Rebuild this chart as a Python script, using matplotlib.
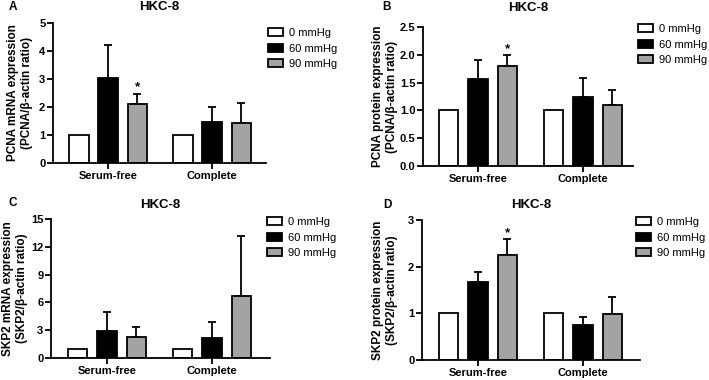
import matplotlib
matplotlib.use("Agg")
import matplotlib.pyplot as plt
from matplotlib.patches import Patch
import numpy as np

plt.rcParams['font.family'] = ['Liberation Sans', 'DejaVu Sans']

W, H = 709, 380

groups = ["Serum-free", "Complete"]
series = ["0 mmHg", "60 mmHg", "90 mmHg"]
colors = ["white", "black", "#a3a3a3"]

# panel A: PCNA mRNA
a_vals = [[1.0, 1.0], [3.02, 1.47], [2.12, 1.43]]
a_err = [[0.0, 0.0], [1.20, 0.53], [0.36, 0.72]]
# panel B: PCNA protein
b_vals = [[1.0, 1.0], [1.56, 1.24], [1.79, 1.09]]
b_err = [[0.0, 0.0], [0.34, 0.35], [0.20, 0.27]]
# panel C: SKP2 mRNA
c_vals = [[1.0, 1.0], [2.95, 2.15], [2.3, 6.7]]
c_err = [[0.0, 0.0], [2.05, 1.75], [1.05, 6.5]]
# panel D: SKP2 protein
d_vals = [[1.0, 1.0], [1.67, 0.75], [2.26, 0.99]]
d_err = [[0.0, 0.0], [0.21, 0.17], [0.33, 0.37]]

panels = [
    dict(letter="A", vals=a_vals, err=a_err, ymax=5, yticks=[0, 1, 2, 3, 4, 5], fmt="{:g}",
         ylabel="PCNA mRNA expression\n(PCNA/\u03b2-actin ratio)",
         box=(53, 266, 23, 163), centers=(108, 212), star=True,
         letter_xy=(13, 7), title_y=7, ylab_x=20, leg=(268, 28)),
    dict(letter="B", vals=b_vals, err=b_err, ymax=2.5, yticks=[0, 0.5, 1.0, 1.5, 2.0, 2.5], fmt="{:.1f}",
         ylabel="PCNA protein expression\n(PCNA/\u03b2-actin ratio)",
         box=(423, 633, 27, 166), centers=(478, 583), star=True,
         letter_xy=(386, 7), title_y=8, ylab_x=385, leg=(638, 24)),
    dict(letter="C", vals=c_vals, err=c_err, ymax=15, yticks=[0, 3, 6, 9, 12, 15], fmt="{:g}",
         ylabel="SKP2 mRNA expression\n(SKP2/\u03b2-actin ratio)",
         box=(51, 270, 219, 358), centers=(107, 212), star=False,
         letter_xy=(13, 203), title_y=205, ylab_x=15, leg=(267, 217)),
    dict(letter="D", vals=d_vals, err=d_err, ymax=3, yticks=[0, 1, 2, 3], fmt="{:g}",
         ylabel="SKP2 protein expression\n(SKP2/\u03b2-actin ratio)",
         box=(422, 640, 220, 360), centers=(478, 583), star=True,
         letter_xy=(387, 205), title_y=205, ylab_x=385, leg=(636, 217)),
]

fig = plt.figure(figsize=(W / 100, H / 100), dpi=100)

def fx(x):
    return x / W

def fy(y):
    return 1 - y / H

lw = 1.3
offsets = [-0.28, 0.0, 0.28]
bw = 0.185

for p in panels:
    l, r, t, b = p["box"]
    ax = fig.add_axes([fx(l), fy(b), (r - l) / W, (b - t) / H])
    c1, c2 = p["centers"]
    s = c2 - c1
    ax.set_xlim((l - c1) / s, 1 + (r - c2) / s)
    ax.set_ylim(0, p["ymax"])
    x = np.arange(len(groups))
    for i in range(3):
        ax.bar(x + offsets[i], p["vals"][i], bw, color=colors[i], edgecolor="black",
               linewidth=lw, zorder=2)
        errs = np.array(p["err"][i])
        mask = errs > 0
        if mask.any():
            ax.errorbar((x + offsets[i])[mask], np.array(p["vals"][i])[mask],
                        yerr=[np.zeros(mask.sum()), errs[mask]], fmt="none",
                        ecolor="black", elinewidth=lw, capsize=2.8, capthick=lw, zorder=1)
    if p["star"]:
        top = p["vals"][2][0] + p["err"][2][0]
        ax.annotate("*", (offsets[2], top), xytext=(0, 0), textcoords="offset points",
                    ha="center", va="bottom", fontsize=9.5, fontweight="bold")
    ax.set_xticks(x)
    ax.set_xticklabels(groups, fontsize=8, fontweight="bold")
    ax.set_yticks(p["yticks"])
    ax.set_yticklabels([p["fmt"].format(v) for v in p["yticks"]], fontsize=8, fontweight="bold")
    for sp in ["top", "right"]:
        ax.spines[sp].set_visible(False)
    for sp in ["left", "bottom"]:
        ax.spines[sp].set_linewidth(lw)
    ax.tick_params(axis="both", width=lw, length=4, pad=1.5)
    ax.patch.set_alpha(0)

    fig.text(fx(p["ylab_x"]), fy((t + b) / 2), p["ylabel"], rotation=90, ha="center",
             va="center", fontsize=8.5, fontweight="bold", linespacing=1.2)
    fig.text(fx(p["letter_xy"][0]), fy(p["letter_xy"][1]), p["letter"], ha="center",
             va="center", fontsize=8.5, fontweight="bold")
    fig.text(fx((l + r) / 2), fy(p["title_y"]), "HKC-8", ha="center", va="center",
             fontsize=9.5, fontweight="bold")

    handles = [Patch(facecolor=colors[i], edgecolor="black", linewidth=lw) for i in range(3)]
    fig.legend(handles, series, loc="upper left",
               bbox_to_anchor=(fx(p["leg"][0]), fy(p["leg"][1])),
               bbox_transform=fig.transFigure, frameon=False, fontsize=8,
               borderpad=0, borderaxespad=0, handlelength=1.35, handleheight=0.7,
               handletextpad=0.5, labelspacing=0.5)

fig.savefig("out.png", dpi=100)
